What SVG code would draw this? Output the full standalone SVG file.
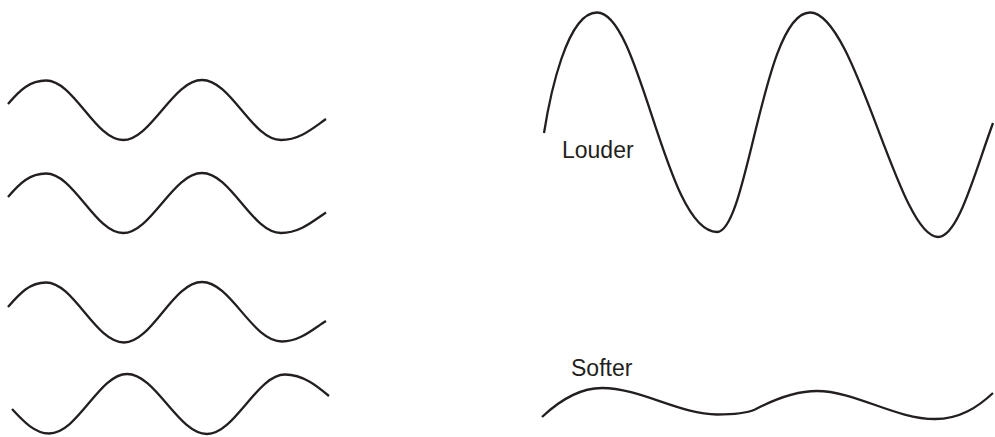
<svg xmlns="http://www.w3.org/2000/svg" width="995" height="437" viewBox="0 0 995 437">
<style>
.w{fill:none;stroke:#231f20;stroke-width:2.3;stroke-linecap:butt;stroke-linejoin:round}
.t{font-family:"Liberation Sans",Arial,sans-serif;font-size:23px;fill:#231f20}
</style>
<rect width="995" height="437" fill="#ffffff"/>
<g id="wave1"><path class="w" d="M8,104 C20,90 30,80.5 46,80.5 C74,80.5 95,140 123,140 C151,140 173,80 202,80 C231,80 252,140 281,140 C300,140 313,128 326,119"/></g>
<g id="wave2"><path class="w" d="M8,197 C20,183 30,173.5 46,173.5 C74,173.5 95,233 123,233 C151,233 173,173 202,173 C231,173 252,233 281,233 C300,233 313,221 326,212.5"/></g>
<g id="wave3"><path class="w" d="M8,307 C20,293 30,282.5 46,282.5 C74,282.5 95,342.5 124,342.5 C152,342.5 173,282 202,282 C231,282 252,341.5 282,341.5 C300,341.5 313,329 326,321"/></g>
<g id="wave4"><path class="w" d="M12,409 C24,422 35,433.5 49,433.5 C78,433.5 99,374 127,374 C156,374 178,434 207,434 C235,434 257,374.5 285,374.5 C303,374.5 317,386 329,396"/></g>
<g id="louder">
<path class="w" d="M544,133 C550,95 567,12.5 597,12.5 C641,12.5 665,232 717,232 C748,232 763,12.5 810,12.5 C856,12.5 898,237 938,237 C958,237 974,175 993,123"/>
<text class="t" x="562" y="157.5">Louder</text>
</g>
<g id="softer">
<path class="w" d="M542,417 C560,400 580,388 602,388 C640,388 680,414.5 717,414.5 C735,414.5 747,413 755,409.5 C775,399 795,391 817,391 C855,391 895,419 935,419 C960,419 978,407 993,393"/>
<text class="t" x="571" y="376">Softer</text>
</g>
</svg>
